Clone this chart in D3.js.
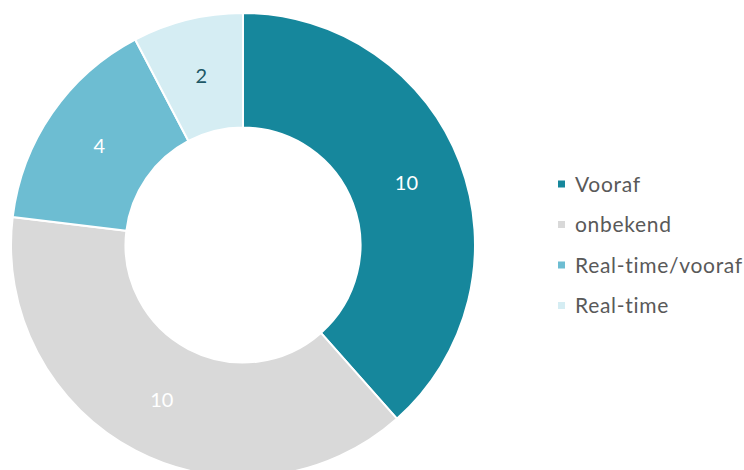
<!DOCTYPE html>
<html>
<head>
<meta charset="utf-8">
<script src="https://cdn.jsdelivr.net/npm/d3@7"></script>
<style>
  html, body { margin: 0; padding: 0; background: #ffffff; }
  svg { display: block; }
  text { font-family: Lato, "Open Sans", sans-serif; }
</style>
</head>
<body>
<div id="chart"></div>
<script>
// Categories and counts, in drawing order (clockwise from 12 o'clock)
const categories = ["Vooraf", "onbekend", "Real-time/vooraf", "Real-time"];
const values = [10, 10, 4, 2];
const colors = ["#16879c", "#d9d9d9", "#6dbdd2", "#d5edf3"];
const labelColors = ["#ffffff", "#ffffff", "#ffffff", "#1d5866"];

const width = 744, height = 470;
const cx = 243, cy = 245;
const outerR = 232, innerR = 117.5;

const svg = d3.select("#chart").append("svg")
  .attr("width", width)
  .attr("height", height);

const data = categories.map((c, i) => ({ name: c, value: values[i], color: colors[i], labelColor: labelColors[i] }));

const pie = d3.pie().value(d => d.value).sort(null);
const arc = d3.arc().innerRadius(innerR).outerRadius(outerR);
const labelArc = d3.arc().innerRadius((innerR + outerR) / 2).outerRadius((innerR + outerR) / 2);

const g = svg.append("g").attr("transform", `translate(${cx},${cy})`);
const arcs = pie(data);

g.selectAll("path.slice")
  .data(arcs)
  .join("path")
  .attr("class", "slice")
  .attr("d", arc)
  .attr("fill", d => d.data.color)
  .attr("stroke", "#ffffff")
  .attr("stroke-width", 2);

g.selectAll("text.value")
  .data(arcs)
  .join("text")
  .attr("class", "value")
  .attr("transform", d => `translate(${labelArc.centroid(d)})`)
  .attr("text-anchor", "middle")
  .attr("dy", "0.36em")
  .attr("font-size", 20)
  .attr("fill", d => d.data.labelColor)
  .text(d => d.data.value);

// Legend
const legend = svg.append("g").attr("transform", "translate(558,184)");
const rowStep = 40.5;
const items = legend.selectAll("g.item")
  .data(data)
  .join("g")
  .attr("class", "item")
  .attr("transform", (d, i) => `translate(0,${i * rowStep})`);

items.append("rect")
  .attr("x", 0)
  .attr("y", -3.5)
  .attr("width", 7)
  .attr("height", 7)
  .attr("fill", d => d.color);

items.append("text")
  .attr("x", 17)
  .attr("dy", "0.36em")
  .attr("font-size", 21)
  .attr("letter-spacing", 0.7)
  .attr("fill", "#595959")
  .text(d => d.name);
</script>
</body>
</html>
